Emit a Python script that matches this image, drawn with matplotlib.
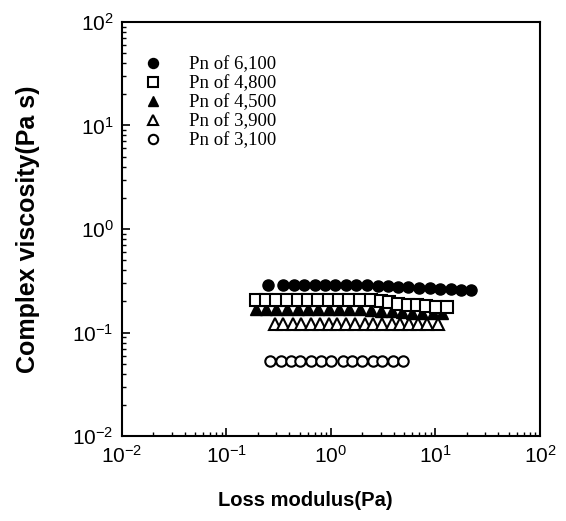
import matplotlib
matplotlib.use('Agg')
import matplotlib.pyplot as plt
from matplotlib.ticker import LogLocator, NullFormatter

plt.rcParams['font.family'] = ['Liberation Sans', 'DejaVu Sans']

# 各分子量樣品的損失模數 (Pa) 與複數黏度 (Pa s)
labels = ['Pn of 6,100', 'Pn of 4,800', 'Pn of 4,500', 'Pn of 3,900', 'Pn of 3,100']

x_6100 = [0.25, 0.35, 0.44, 0.55, 0.70, 0.88, 1.1, 1.4, 1.75, 2.2,
          2.8, 3.5, 4.4, 5.5, 7.0, 8.8, 11, 14, 17.5, 22]
y_6100 = [0.285, 0.285, 0.285, 0.285, 0.285, 0.285, 0.285, 0.285, 0.285, 0.285,
          0.283, 0.28, 0.278, 0.275, 0.272, 0.268, 0.265, 0.262, 0.26, 0.258]

x_4800 = [0.19, 0.24, 0.30, 0.38, 0.48, 0.60, 0.75, 0.95, 1.2, 1.5,
          1.9, 2.4, 3.0, 3.6, 4.4, 5.4, 6.6, 8.2, 10.2, 12.8]
y_4800 = [0.205, 0.205, 0.205, 0.205, 0.205, 0.205, 0.205, 0.205, 0.205, 0.205,
          0.205, 0.204, 0.2, 0.195, 0.19, 0.186, 0.183, 0.18, 0.178, 0.176]

x_4500 = [0.19, 0.24, 0.30, 0.38, 0.48, 0.60, 0.75, 0.95, 1.2, 1.5,
          1.9, 2.4, 3.0, 3.8, 4.8, 6.0, 7.5, 9.5, 11.5]
y_4500 = [0.168, 0.168, 0.168, 0.168, 0.168, 0.168, 0.168, 0.168, 0.168, 0.168,
          0.167, 0.165, 0.163, 0.16, 0.158, 0.156, 0.155, 0.154, 0.153]

x_3900 = [0.29, 0.35, 0.43, 0.52, 0.64, 0.78, 0.95, 1.15, 1.4, 1.7,
          2.1, 2.5, 3.1, 3.8, 4.6, 5.6, 6.8, 8.3, 10.5]
y_3900 = [0.122, 0.122, 0.122, 0.122, 0.122, 0.122, 0.122, 0.122, 0.122, 0.122,
          0.122, 0.122, 0.122, 0.122, 0.122, 0.122, 0.122, 0.122, 0.122]

x_3100 = [0.26, 0.33, 0.41, 0.51, 0.64, 0.80, 1.0, 1.3, 1.6, 2.0,
          2.5, 3.1, 3.9, 4.9]
y_3100 = [0.053, 0.053, 0.053, 0.053, 0.053, 0.053, 0.053, 0.053, 0.053, 0.053,
          0.053, 0.053, 0.053, 0.053]

fig = plt.figure(figsize=(5.66, 5.21), dpi=100)
ax = fig.add_axes([0.2155, 0.163, 0.7385, 0.795])

ms = 8
ax.plot(x_6100, y_6100, 'o', ms=ms, mfc='black', mec='black', label=labels[0])
ax.plot(x_4500, y_4500, '^', ms=ms, mfc='black', mec='black', label=labels[2])
ax.plot(x_4800, y_4800, 's', ms=ms, mfc='white', mec='black', mew=1.5, label=labels[1])
ax.plot(x_3900, y_3900, '^', ms=ms, mfc='white', mec='black', mew=1.5, label=labels[3])
ax.plot(x_3100, y_3100, 'o', ms=7.5, mfc='white', mec='black', mew=1.5, label=labels[4])

ax.set_xscale('log')
ax.set_yscale('log')
ax.set_xlim(1e-2, 1e2)
ax.set_ylim(1e-2, 1e2)

for s in ax.spines.values():
    s.set_linewidth(1.5)

ax.xaxis.set_major_locator(LogLocator(base=10, numticks=10))
ax.yaxis.set_major_locator(LogLocator(base=10, numticks=10))
ax.xaxis.set_minor_locator(LogLocator(base=10, subs=range(2, 10), numticks=10))
ax.yaxis.set_minor_locator(LogLocator(base=10, subs=range(2, 10), numticks=10))
ax.xaxis.set_minor_formatter(NullFormatter())
ax.yaxis.set_minor_formatter(NullFormatter())
ax.tick_params(which='major', direction='in', length=6, width=1.2, labelsize=15, pad=6)
ax.tick_params(which='minor', direction='in', length=3, width=1)
ax.tick_params(top=False, right=False, which='both')

ax.set_xlabel('Loss modulus(Pa)', fontsize=14.5, fontweight='bold')
ax.set_ylabel('Complex viscosity(Pa s)', fontsize=18, fontweight='bold')
ax.xaxis.set_label_coords(0.439, -0.133)
ax.yaxis.set_label_coords(-0.196, 0.50)

# 圖例順序
handles, labs = ax.get_legend_handles_labels()
order = [labs.index(l) for l in labels]
leg = ax.legend([handles[i] for i in order], [labs[i] for i in order],
                loc='upper left', bbox_to_anchor=(0.035, 0.935), frameon=False,
                prop={'family': 'Liberation Serif', 'size': 13.5},
                handletextpad=1.4, labelspacing=0.1, handlelength=1.0,
                borderaxespad=0, markerscale=0.9)

plt.savefig('out.png', dpi=100)
